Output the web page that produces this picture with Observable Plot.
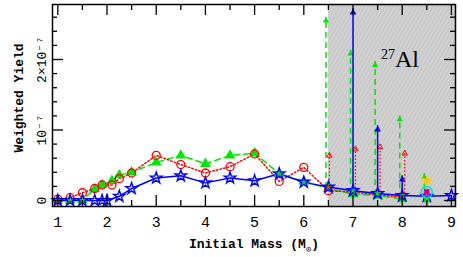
<!DOCTYPE html>
<html><head><meta charset="utf-8">
<script src="https://cdn.jsdelivr.net/npm/d3@7"></script>
<script src="https://cdn.jsdelivr.net/npm/@observablehq/plot@0.6"></script>
<style>body{margin:0;background:#fff}svg{display:block}</style>
</head><body><div id="chart"></div>
<script>
// Weighted yields in units of 1e-7
const redMass   = [1, 1.25, 1.5, 1.75, 1.9, 2.1, 2.25, 2.5, 3, 3.5, 4, 4.5, 5, 5.5, 6, 6.5, 7, 7.5, 8];
const redYield  = [0.02, 0.04, 0.11, 0.17, 0.22, 0.22, 0.31, 0.39, 0.64, 0.51, 0.39, 0.48, 0.66, 0.27, 0.47, 0.14, 0.12, 0.08, 0.05];
const greenMass  = [1, 1.25, 1.5, 1.75, 1.9, 2.1, 2.25, 2.5, 3, 3.5, 4, 4.5, 5, 5.5, 6, 6.5, 7, 7.5, 8];
const greenYield = [0.0, 0.0, 0.01, 0.16, 0.22, 0.28, 0.36, 0.40, 0.54, 0.64, 0.52, 0.64, 0.67, 0.38, 0.27, 0.17, 0.09, 0.07, 0.02];
const blueMass  = [1, 1.25, 1.5, 1.75, 1.9, 2.0, 2.25, 2.5, 3, 3.5, 4, 4.5, 5, 5.5, 6, 6.5, 7, 7.5, 8, 8.5, 9];
const blueYield = [0.0, 0.0, 0.0, 0.0, 0.0, 0.0, 0.06, 0.17, 0.32, 0.35, 0.25, 0.32, 0.28, 0.38, 0.26, 0.19, 0.14, 0.10, 0.07, 0.06, 0.07];

// lower-limit arrows (mass, base, top)
const greenArrowMass = [6.45, 6.95, 7.45, 7.95, 8.45];
const greenArrowBase = [0.17, 0.09, 0.07, 0.02, 0.01];
const greenArrowTop  = [2.6, 2.13, 1.97, 1.2, 0.38];
const blueArrowMass = [7.0, 7.5, 8.0];
const blueArrowBase = [0.14, 0.10, 0.07];
const blueArrowTop  = [2.72, 1.06, 0.35];
const redArrowMass = [6.52, 7.05, 7.55, 8.05];
const redArrowBase = [0.14, 0.12, 0.08, 0.05];
const redArrowTop  = [0.68, 0.77, 0.80, 0.71];

// other models at 8.5
const otherMass = [8.5];
const cyanYield = [0.12];
const sunYield = [0.28];
const squareYield = [0.01];

const shadeFrom = [6.5];
const xTicks = [1, 2, 3, 4, 5, 6, 7, 8, 9];
const xMinorTicks = [1.5, 2.5, 3.5, 4.5, 5.5, 6.5, 7.5, 8.5];
const yTicks = [0, 1, 2];
const yTickLabels = ["0", "10\u207B\u2077", "2\u00D710\u207B\u2077"];
const yMinorTicks = [0.2, 0.4, 0.6, 0.8, 1.2, 1.4, 1.6, 1.8, 2.2, 2.4, 2.6];
const xLabel = "Initial Mass (M\u2299)";
const yLabel = "Weighted Yield";
const element = "27Al";

const xDomain = [0.892, 9.083];
const yDomain = [-0.085, 2.78];
const W = 463, H = 257, mL = 52, mR = 8, mT = 4, mB = 51;
const fw = W - mL - mR, fh = H - mT - mB;

const zip = (xs, ys) => xs.map((x, i) => ({x, y: ys[i]}));
const red = zip(redMass, redYield);
const green = zip(greenMass, greenYield);
const blue = zip(blueMass, blueYield);
const arrows = (xs, b, t) => xs.map((x, i) => ({x, b: b[i], t: t[i]}));
const gA = arrows(greenArrowMass, greenArrowBase, greenArrowTop);
const bA = arrows(blueArrowMass, blueArrowBase, blueArrowTop);
const rA = arrows(redArrowMass, redArrowBase, redArrowTop);

const GREEN = "#00e600", RED = "#ff0000", BLUE = "#0000ff";
const mono = "Liberation Mono, DejaVu Sans Mono, monospace";

const svg = Plot.plot({
  width: W, height: H,
  marginLeft: mL, marginRight: mR, marginTop: mT, marginBottom: mB,
  x: {domain: xDomain, axis: null},
  y: {domain: yDomain, axis: null},
  style: {background: "white", fontFamily: mono},
  marks: [
    Plot.rect(shadeFrom, {x1: d => d, x2: () => xDomain[1], y1: () => yDomain[0], y2: () => yDomain[1], fill: "url(#hatch)"}),
    // series lines
    Plot.line(green, {x: "x", y: "y", stroke: GREEN, strokeWidth: 1.5, strokeDasharray: "6,4"}),
    Plot.line(red, {x: "x", y: "y", stroke: RED, strokeWidth: 1.5, strokeDasharray: "1.5,2.2"}),
    Plot.line(blue, {x: "x", y: "y", stroke: BLUE, strokeWidth: 1.5}),
    // arrows
    Plot.ruleX(gA, {x: "x", y1: "b", y2: "t", stroke: GREEN, strokeWidth: 1.5, strokeDasharray: "6,4"}),
    Plot.dot(gA, {x: "x", y: "t", symbol: "triangle", r: 2.3, fill: GREEN, dy: 3.5}),
    Plot.ruleX(rA, {x: "x", y1: "b", y2: "t", stroke: RED, strokeWidth: 1.3, strokeDasharray: "1.5,2"}),
    Plot.dot(rA, {x: "x", y: "t", symbol: "triangle", r: 2, stroke: RED, strokeWidth: 1, fill: "none", dy: 3}),
    Plot.ruleX(bA, {x: "x", y1: "b", y2: "t", stroke: BLUE, strokeWidth: 1.5}),
    Plot.dot(bA, {x: "x", y: "t", symbol: "triangle", r: 2.5, fill: BLUE, dy: 3.8}),
    // markers
    Plot.dot(green, {x: "x", y: "y", symbol: "triangle", r: 4, fill: GREEN}),
    Plot.dot(red.filter(d => d.x <= 6.5), {x: "x", y: "y", r: 4, stroke: RED, strokeWidth: 1.3, fill: "none"}),
    Plot.dot(blue, {x: "x", y: "y", symbol: "star", r: 3.6, stroke: BLUE, strokeWidth: 1.4, fill: "none"}),
    // other models at 8.5
    Plot.dot(otherMass, {x: d => d, y: (d, i) => squareYield[i], symbol: "square", r: 3, fill: GREEN}),
    Plot.dot(otherMass, {x: d => d, y: (d, i) => cyanYield[i], r: 3, fill: "#ff00ff"}),
    Plot.dot(otherMass, {x: d => d, y: (d, i) => cyanYield[i], symbol: "times", r: 2.5, stroke: "#b00000", strokeWidth: 1.2}),
    Plot.dot(otherMass, {x: d => d, y: (d, i) => cyanYield[i], r: 5.5, stroke: "#00e0e0", strokeWidth: 1.5, fill: "none"}),
    Plot.dot(otherMass, {x: d => d, y: (d, i) => sunYield[i], symbol: "asterisk", r: 5, stroke: "#ffd000", strokeWidth: 1.5}),
    Plot.dot(otherMass, {x: d => d, y: (d, i) => sunYield[i], r: 2.6, fill: "#ffc400"}),
    // ticks (inward, all four sides)
    Plot.tickX(xTicks, {x: d => d, insetTop: fh - 11, stroke: "black", strokeWidth: 1.3}),
    Plot.tickX(xMinorTicks, {x: d => d, insetTop: fh - 6, stroke: "black", strokeWidth: 1.3}),
    Plot.tickX(xTicks, {x: d => d, insetBottom: fh - 11, stroke: "black", strokeWidth: 1.3}),
    Plot.tickX(xMinorTicks, {x: d => d, insetBottom: fh - 6, stroke: "black", strokeWidth: 1.3}),
    Plot.tickY(yTicks, {y: d => d, insetRight: fw - 11, stroke: "black", strokeWidth: 1.3}),
    Plot.tickY(yMinorTicks, {y: d => d, insetRight: fw - 5, stroke: "black", strokeWidth: 1.3}),
    Plot.tickY(yTicks, {y: d => d, insetLeft: fw - 11, stroke: "black", strokeWidth: 1.3}),
    Plot.tickY(yMinorTicks, {y: d => d, insetLeft: fw - 5, stroke: "black", strokeWidth: 1.3}),
    Plot.frame({stroke: "black", strokeWidth: 1.5}),
    // tick labels
    Plot.text(xTicks, {x: d => d, text: d => String(d), frameAnchor: "bottom", textAnchor: "middle", lineAnchor: "middle", dy: 16, fontSize: 15, fontFamily: mono, fill: "black"}),
    Plot.text(yTicks, {y: d => d, text: (d, i) => yTickLabels[i], frameAnchor: "left", textAnchor: "middle", lineAnchor: "middle", dx: -11, rotate: -90, fontSize: 13, fontFamily: mono, fill: "black"}),
    Plot.text([yLabel], {text: d => d, frameAnchor: "left", textAnchor: "middle", lineAnchor: "middle", dx: -34, dy: -7.5, rotate: -90, fontSize: 13, fontWeight: "bold", fontFamily: mono, fill: "black"}),
    Plot.text([xLabel], {text: d => d, frameAnchor: "bottom", textAnchor: "middle", lineAnchor: "middle", dy: 37, fontSize: 13, fontWeight: "bold", fontFamily: mono, fill: "black"}),
    Plot.text([element], {text: d => d, frameAnchor: "top-right", textAnchor: "middle", lineAnchor: "middle", dx: -55.5, dy: 55.3, fontSize: 24, fontFamily: "Liberation Serif, serif", fill: "black"})
  ]
});

// hatch pattern for the shaded region
const NS = "http://www.w3.org/2000/svg";
const defs = document.createElementNS(NS, "defs");
defs.innerHTML = `<pattern id="hatch" patternUnits="userSpaceOnUse" width="3.5" height="3.5" patternTransform="rotate(30)">
  <rect width="3.5" height="3.5" fill="#d0d0d0"/><line x1="0" y1="0" x2="0" y2="3.5" stroke="#bababa" stroke-width="1"/></pattern>`;
svg.insertBefore(defs, svg.firstChild);

function ts(parent, txt, attrs = {}) {
  const t = document.createElementNS(NS, "tspan");
  t.textContent = txt;
  for (const k in attrs) t.setAttribute(k, attrs[k]);
  parent.appendChild(t);
}
svg.querySelectorAll("text").forEach(t => {
  if (t.textContent === xLabel) {
    t.textContent = "";
    ts(t, "Initial Mass (M");
    ts(t, "\u2299", {dy: "4", "font-size": "9", "font-weight": "normal"});
    ts(t, ")", {dy: "-4"});
  } else if (t.textContent === element) {
    t.textContent = "";
    ts(t, "27", {dy: "-8", "font-size": "14"});
    ts(t, "Al", {dy: "8"});
  }
});
document.getElementById("chart").appendChild(svg);
</script>
</body></html>
